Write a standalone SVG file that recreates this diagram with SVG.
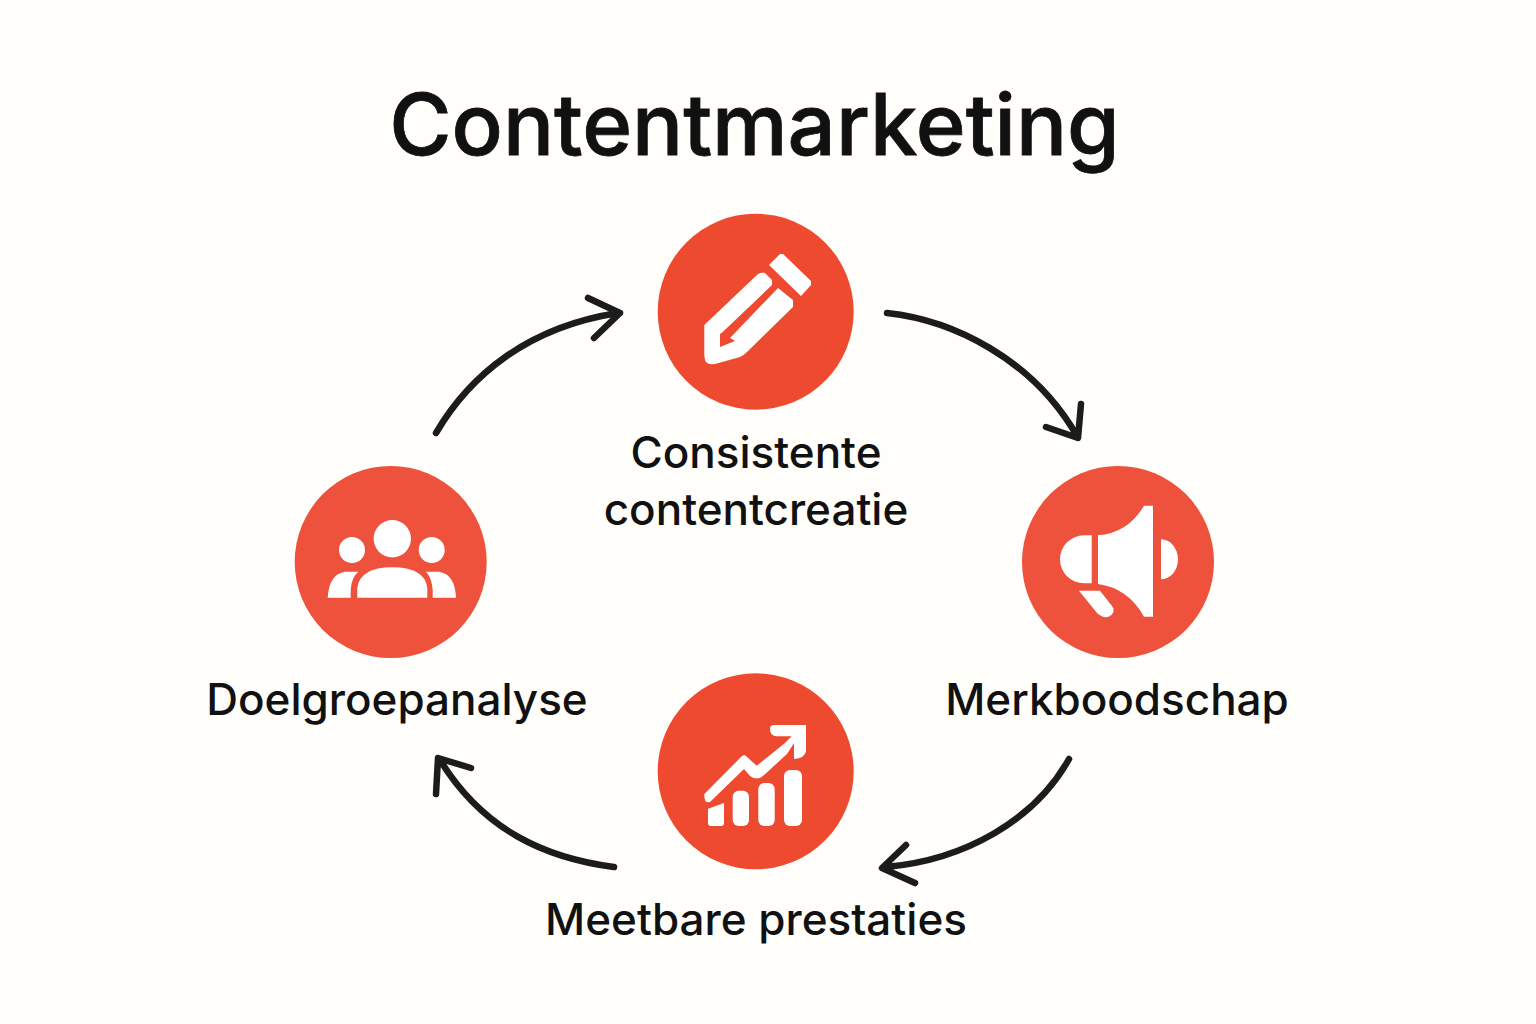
<svg xmlns="http://www.w3.org/2000/svg" width="1536" height="1024" viewBox="0 0 1536 1024">
<style>
.t{font-family:Inter,"Liberation Sans",sans-serif;fill:#111;text-anchor:middle}
.l{font-size:44px;font-weight:500}
.w{fill:#fff}
.c{fill:none;stroke:#1c1c1c;stroke-width:6.500;stroke-linecap:round;stroke-linejoin:round}
</style>
<rect width="1536" height="1024" fill="#fffefb"/>
<text id="title" class="t" x="754.500" y="155" font-size="85" font-weight="500" stroke="#111" stroke-width="0.800">Contentmarketing</text>
<g id="connectors">
<path class="c" d="M436 433C470 375 528 327 618 313M588 298L620 313L594 338"/>
<path class="c" d="M887 313C952 320 1032 358 1077 436M1046 427L1078 438L1081 404"/>
<path class="c" d="M1069 759C1035 820 965 860 886 867M906 845L882 868L915 883"/>
<path class="c" d="M614 867C545 858 483 830 440 760M436 794L438 758L471 768"/>
</g>
<g id="node-content">
<circle cx="755.700" cy="311.700" r="98" fill="#ee4a30"/>
<path class="w" d="M769 265L780 254H783L811 281V285L801 296Z"/>
<path class="w" d="M704.300 325L758 274Q762 272 765 273L772 280V285L722.700 332L720 334V347L735 341L730 338L778 288L793 300V307L747 352Q744 355 740 357L715 364Q706 365 705 360L704.300 355Z"/>
<text class="t l" x="756" y="468">Consistente</text>
<text class="t l" x="756" y="525">contentcreatie</text>
</g>
<g id="node-brand">
<circle cx="1118" cy="562" r="96" fill="#ee513c"/>
<path class="w" d="M1091.700 535.300H1084A24 24 0 0 0 1084 583.300H1091.700Z"/>
<path class="w" d="M1098 535.300Q1128 533 1144 505.700H1153V616.700H1144Q1128 588 1098 584Z"/>
<path class="w" d="M1161 539.300A17 20 0 0 1 1161 579.300Z"/>
<path class="w" d="M1079 590.700H1100L1112 606Q1117 613 1108 617Q1102 618 1097 613Z"/>
<text class="t l" x="1117" y="715">Merkboodschap</text>
</g>
<g id="node-results">
<circle cx="755.700" cy="771.300" r="98" fill="#ee4a30"/>
<path class="w" d="M770 729Q770 725 774 725H806V751Q805 758 794 759V743L787 754L763 776Q757 781 750 776L744 769L710 802Q704 804 704.300 794L741.700 756.300Q745 754 747 757L756.700 765.700L785 743L791.700 736.300H776.700Q770 736 770 729Z"/>
<path class="w" d="M708 808.700L724 803V823Q724 826 721 826H711Q708 826 708 823Z"/>
<rect class="w" x="732.700" y="790.700" width="16.300" height="35.300" rx="6"/>
<rect class="w" x="758.300" y="783" width="16.400" height="43" rx="6"/>
<rect class="w" x="784" y="770" width="18" height="56" rx="6"/>
<text class="t l" x="756" y="935">Meetbare prestaties</text>
</g>
<g id="node-audience">
<circle cx="390.700" cy="562" r="96" fill="#ee513c"/>
<circle class="w" cx="392.300" cy="538.700" r="18.700"/>
<circle class="w" cx="352" cy="550" r="13"/>
<circle class="w" cx="431.700" cy="550" r="13"/>
<path class="w" d="M357.300 597.700V588Q360 567.300 392 567.300Q425 567.300 427.300 588V597.700Z"/>
<path class="w" d="M327.700 597.700Q329 574 345 571.700H358.300Q351 578 350.700 590V597.700Z"/>
<path class="w" d="M456 597.700Q455 574 439 571.700H426Q432 578 432.700 590V597.700Z"/>
<text class="t l" x="397" y="715">Doelgroepanalyse</text>
</g>
</svg>
